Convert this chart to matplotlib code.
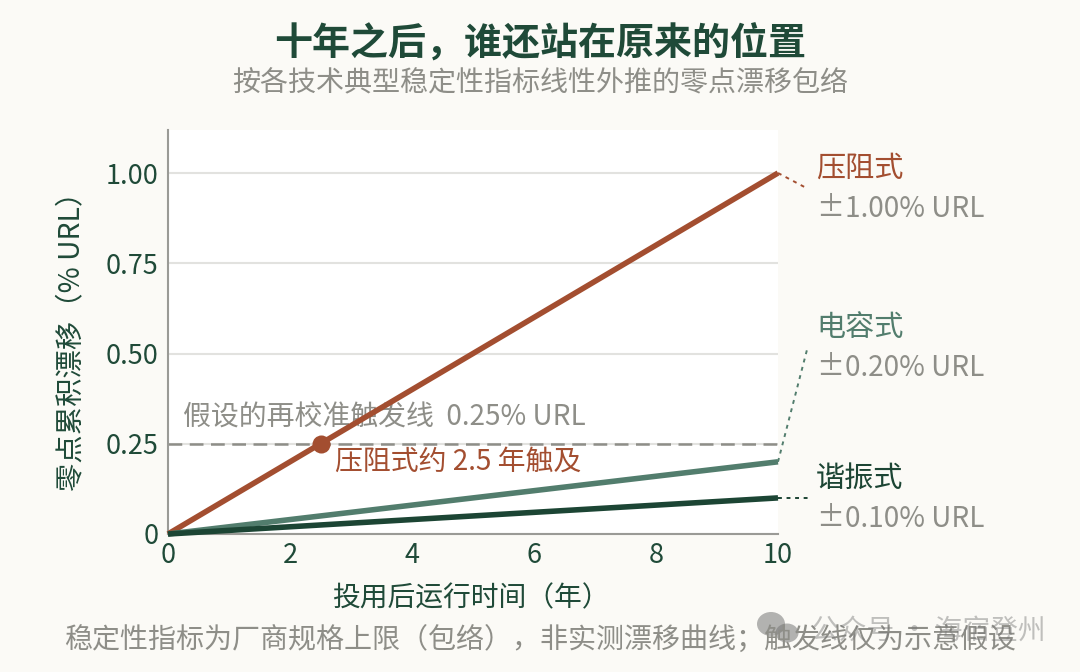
import matplotlib.pyplot as plt
from matplotlib.patches import Ellipse

plt.rcParams['font.family'] = ['Noto Sans CJK SC', 'DejaVu Sans']

W, H = 1080, 672
BG = '#FBFAF6'
DARK = '#1F4A38'
GRAY = '#8E8E88'

years = [0, 10]
names = ['压阻式', '电容式', '谐振式']
drift_end = [1.00, 0.20, 0.10]
colors = ['#A34E30', '#527D6D', '#1C4534']
widths = [4, 4, 4]
spec_labels = ['±1.00% URL', '±0.20% URL', '±0.10% URL']
# leader line ends (x in years, y in % URL)
leader_x = [10.47, 10.49, 10.49]
leader_y = [0.958, 0.52, 0.10]
label_y_px = [169, 328, 479]

trigger = 0.25
hit_year = 2.5
x_ticks = [0, 2, 4, 6, 8, 10]
y_ticks = [0, 0.25, 0.50, 0.75, 1.00]
y_tick_labels = ['0', '0.25', '0.50', '0.75', '1.00']


def fx(p):
    return p / W


def fy(p):
    return 1 - p / H


fig = plt.figure(figsize=(W / 100, H / 100), dpi=100, facecolor=BG)
ax = fig.add_axes([fx(168), fy(534), (778 - 168) / W, (534 - 130) / H], facecolor='white')

ax.set_xlim(0, 10)
ax.set_ylim(0, 404 / 361)

ax.set_yticks(y_ticks)
ax.set_yticklabels(y_tick_labels)
ax.set_xticks(x_ticks)
ax.tick_params(axis='both', length=0, labelsize=19.5, labelcolor=DARK)
ax.tick_params(axis='x', pad=6)
ax.tick_params(axis='y', pad=7)
ax.grid(axis='y', color='#E2E2DF', lw=1.5)
ax.set_axisbelow(True)

for s in ['top', 'right']:
    ax.spines[s].set_visible(False)
for s in ['left', 'bottom']:
    ax.spines[s].set_color('#9A9A96')
    ax.spines[s].set_linewidth(1.5)

ax.axhline(trigger, color=GRAY, lw=1.8, dashes=(5.5, 3), zorder=2)

# draw order: red, green, dark on top
for i in range(3):
    ax.plot(years, [0, drift_end[i]], color=colors[i], lw=widths[i],
            solid_capstyle='butt', zorder=3 + i, clip_on=False)
    ax.plot([10, leader_x[i]], [drift_end[i], leader_y[i]], color=colors[i], lw=1.4,
            dashes=(2, 2.4), clip_on=False, zorder=3)

ax.plot([hit_year], [trigger], 'o', color=colors[0], ms=13, mec='none', zorder=7)

ax.text(0.25, 0.281, '假设的再校准触发线  0.25% URL', fontsize=20.1, color=GRAY,
        va='bottom', ha='left', zorder=2)
ax.text(2.74, 0.241, '压阻式约 2.5 年触及', fontsize=20.1, color=colors[0],
        va='top', ha='left', zorder=8)

# right-hand labels
for i in range(3):
    fig.text(fx(816), fy(label_y_px[i]), names[i], fontsize=21, color=colors[i],
             ha='left', va='center')
    fig.text(fx(817), fy(label_y_px[i] + 40), spec_labels[i], fontsize=20.1, color=GRAY,
             ha='left', va='center')

fig.text(fx(540), fy(44), '十年之后，谁还站在原来的位置', fontsize=27.4, fontweight='bold',
         color=DARK, ha='center', va='center')
fig.text(fx(540), fy(82), '按各技术典型稳定性指标线性外推的零点漂移包络', fontsize=20.2,
         color=GRAY, ha='center', va='center')
fig.text(fx(471), fy(598), '投用后运行时间（年）', fontsize=20, color=DARK, ha='center', va='center')
fig.text(fx(71), fy(334), '零点累积漂移（% URL）', fontsize=20.4, color=DARK, rotation=90,
         ha='center', va='center')
fig.text(fx(540), fy(640), '稳定性指标为厂商规格上限（包络），非实测漂移曲线；触发线仅为示意假设',
         fontsize=20.2, color=GRAY, ha='center', va='center')

# watermark
fig.text(fx(811), fy(631), '公众号 · 海宿登州', fontsize=20, color='#777777', alpha=0.45,
         ha='left', va='center')
fig.add_artist(Ellipse((fx(771), fy(624)), 28 / W, 24 / H, color='#777777', alpha=0.55,
                       lw=0, transform=fig.transFigure))
fig.add_artist(Ellipse((fx(787), fy(633)), 23 / W, 19 / H, color='#777777', alpha=0.55,
                       lw=0, transform=fig.transFigure))

fig.savefig('out.png', dpi=100, facecolor=BG)
